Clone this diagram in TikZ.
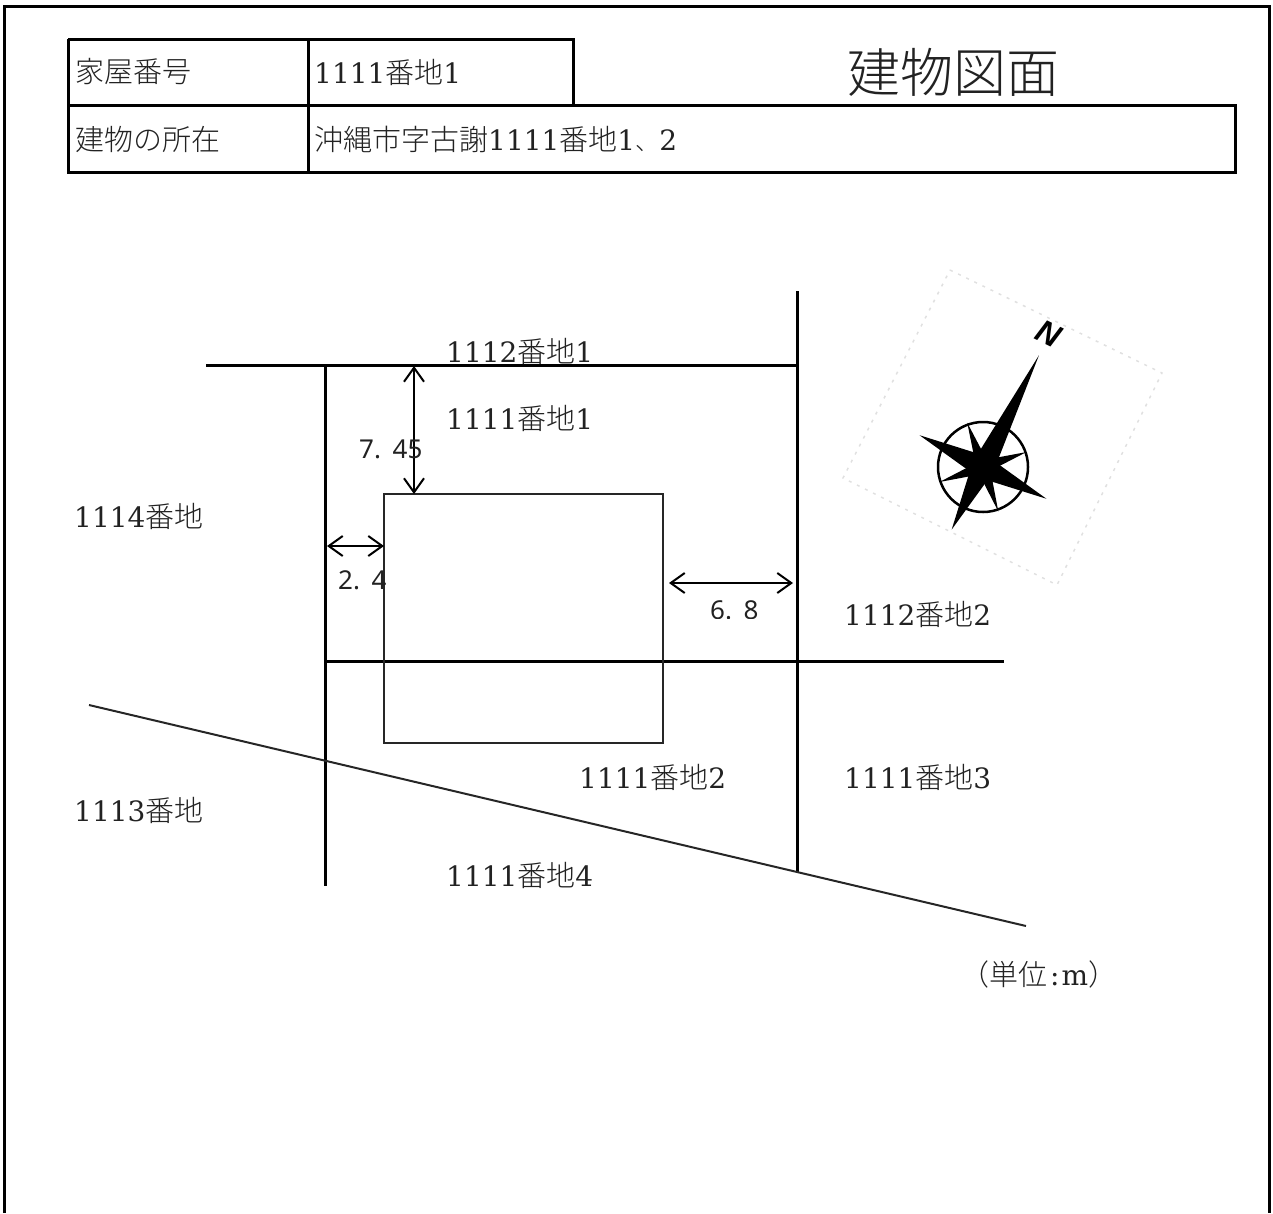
\documentclass[tikz,border=0pt]{standalone}
\usepackage{fontspec}
\setmainfont{DejaVu Serif}
\newfontfamily\cjk{Noto Sans CJK JP Light}
\newfontfamily\dimfont{Noto Sans}
\newfontfamily\nfont{Liberation Sans}
\usetikzlibrary{arrows.meta}
\newcommand{\ban}{{\cjk\fontsize{29}{32}\selectfont 番地}}
\newcommand{\arm}[4]{\fill[needle,rotate=#1] (0,-#2) -- (#4,-#3) -- (0,0) -- (-#4,-#3) -- cycle;}
\definecolor{ink}{HTML}{222222}
\tikzset{
  frameline/.style={line width=3pt,black},
  boundary/.style={line width=3pt,black},
  thinline/.style={line width=2pt,black!85},
  dimline/.style={line width=2pt,black,{Straight Barb[length=14pt,width=20pt,line width=2pt]}-{Straight Barb[length=14pt,width=20pt,line width=2pt]}},
  celltext/.style={anchor=west,inner sep=0pt,text=ink,font=\fontsize{28}{32}\selectfont},
  parcel/.style={anchor=west,inner sep=0pt,text=ink,font=\fontsize{28}{32}\selectfont},
  dimtext/.style={anchor=west,inner sep=0pt,text=ink,font=\dimfont\fontsize{26}{30}\selectfont},
  frametrace/.style={line width=1.5pt,black!12,dash pattern=on 3pt off 6pt},
  needle/.style={fill=black,draw=none}
}
\begin{document}
\begin{tikzpicture}[x=1pt,y=-1pt]
\useasboundingbox (0,0) rectangle (1273,1213);
% outer frame
\coordinate (fbl) at (4,1213); \coordinate (ftl) at (4,6);
\coordinate (ftr) at (1269,6); \coordinate (fbr) at (1269,1213);
\draw[frameline] (fbl) -- (ftl) -- (ftr) -- (fbr);
% table
\coordinate (t1) at (68,39); \coordinate (t2) at (573,39); \coordinate (t3) at (573,105);
\coordinate (t4) at (68,105); \coordinate (t5) at (1235,105); \coordinate (t6) at (1235,172);
\coordinate (t7) at (68,172); \coordinate (c1) at (308,39); \coordinate (c2) at (308,172);
\draw[frameline] (t1) -- (t2) -- (t3);
\draw[frameline] (t4) -- (t5) -- (t6) -- (t7) -- cycle;
\draw[frameline] (t1) -- (t4);
\draw[frameline] (c1) -- (c2);
\node[celltext] (a1) at (75,72) {\cjk\fontsize{29}{32}\selectfont 家屋番号};
\node[celltext] (a2) at (314,72) {1111\ban 1};
\node[celltext] (a3) at (75,139) {\cjk\fontsize{29}{32}\selectfont 建物の所在};
\node[celltext] (a4) at (314,139) {{\cjk\fontsize{29}{32}\selectfont 沖縄市字古謝}1111\ban 1{\cjk\fontsize{24}{28}\selectfont 、}2};
\node[anchor=center,inner sep=0pt,text=ink,font=\cjk\fontsize{53}{56}\selectfont] (title) at (953,72) {建物図面};
% site lines
\coordinate (h1a) at (206,365); \coordinate (h1b) at (797.5,365);
\coordinate (v1a) at (325,365); \coordinate (v1b) at (325,886);
\coordinate (v2a) at (797.5,291); \coordinate (v2b) at (797.5,872);
\coordinate (h2a) at (325,661); \coordinate (h2b) at (1004,661);
\coordinate (sa) at (89,705); \coordinate (sb) at (1026,926);
\draw[boundary] (h1a) -- (h1b);
\draw[boundary] (v1a) -- (v1b);
\draw[boundary] (v2a) -- (v2b);
\draw[boundary] (h2a) -- (h2b);
\draw[thinline] (sa) -- (sb);
\node[draw=black!85,line width=2pt,outer sep=0pt,minimum width=279pt,minimum height=249pt,inner sep=0pt,anchor=north west] (house) at (384,494) {};
% dimension arrows
\coordinate (d1a) at (414,366); \coordinate (d1b) at (414,494);
\coordinate (d2a) at (327,546); \coordinate (d2b) at (384,546);
\coordinate (d3a) at (669,583); \coordinate (d3b) at (793,583);
\draw[dimline] (d1a) -- (d1b);
\draw[dimline] (d2a) -- (d2b);
\draw[dimline] (d3a) -- (d3b);
\node[dimtext] (n745) at (359,449) {7.\,\,\hspace{3pt}45};
\node[dimtext] (n24) at (338,580) {2.\,\,\hspace{3pt}4};
\begin{scope}
\clip (700,590) rectangle (770,618.5);
\node[dimtext] (n68) at (710,610.5) {6.\,\,\hspace{3pt}8};
\end{scope}
% parcel labels
\node[parcel] (p1) at (446,351) {1112\ban 1};
\node[parcel] (p2) at (446,418) {1111\ban 1};
\node[parcel] (p3) at (74,516) {1114\ban};
\node[parcel] (p4) at (844,614) {1112\ban 2};
\node[parcel] (p5) at (579,777) {1111\ban 2};
\node[parcel] (p6) at (844,777) {1111\ban 3};
\node[parcel] (p7) at (74,810) {1113\ban};
\node[parcel] (p8) at (446,875) {1111\ban 4};
\node[parcel] (p9) at (960,974) {{\cjk\fontsize{29}{32}\selectfont （単位}\hspace{3pt}:\hspace{2pt}m{\cjk\fontsize{29}{32}\selectfont ）}};
% compass
\coordinate (cc) at (983,467);
\draw[frametrace] (950,270) -- (1162,373) -- (1057,585) -- (843,478) -- cycle;
\draw[line width=2.5pt,black] (cc) circle (45pt);
\begin{scope}[shift={(cc)}]
\arm{-26.6}{125}{15}{10}
\arm{153.4}{70}{15}{9}
\arm{63.4}{71}{15}{9}
\arm{-116.6}{71}{15}{9}
\arm{19.6}{47}{12}{5}
\arm{-71}{46}{12}{5}
\arm{-161}{47}{12}{5}
\arm{109}{46}{12}{5}
\fill[needle] (0,0) circle (12pt);
\end{scope}
\node[inner sep=0pt,rotate=-26,font=\nfont\itshape\bfseries\fontsize{32}{34}\selectfont] (north) at (1049,334) {N};
\end{tikzpicture}
\end{document}
